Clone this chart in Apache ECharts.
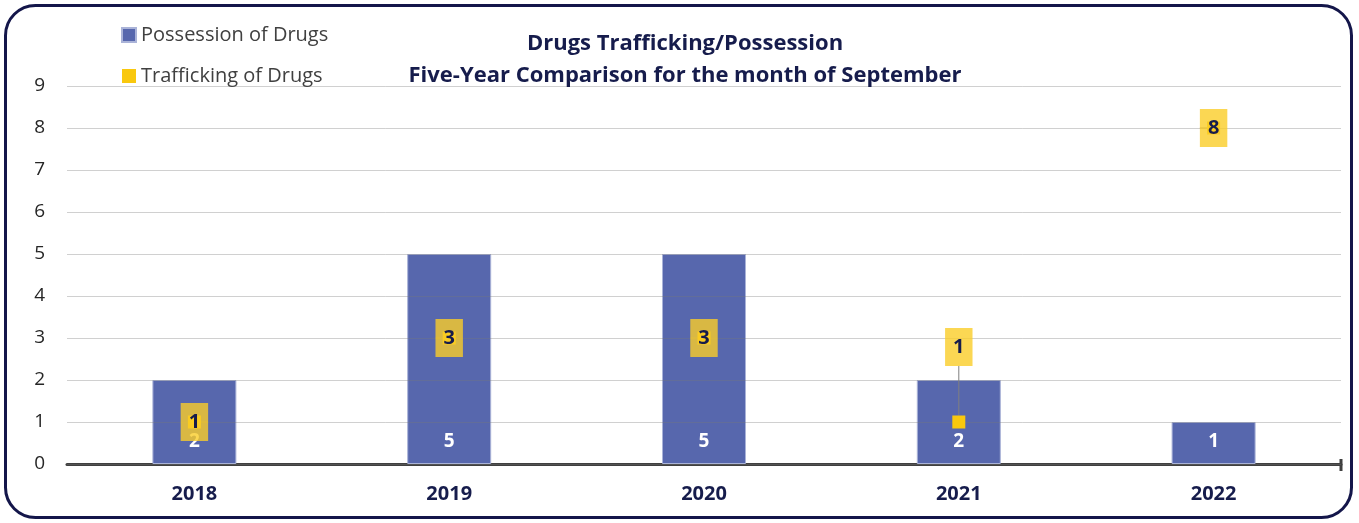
<!DOCTYPE html>
<html>
<head>
<meta charset="utf-8">
<script src="https://cdn.jsdelivr.net/npm/echarts@6/dist/echarts.min.js"></script>
<style>
  html, body { margin: 0; padding: 0; background: #fff; }
  #chart { width: 1359px; height: 523px; }
</style>
</head>
<body>
<div id="chart"></div>
<script>
const years = ['2018', '2019', '2020', '2021', '2022']
const possession = [2, 5, 5, 2, 1]
const trafficking = [1, 3, 3, 1, 8]
const yTicks = [0, 1, 2, 3, 4, 5, 6, 7, 8, 9]

const font = '"Open Sans", Lato, sans-serif'
const navy = '#161c4c'

const chart = echarts.init(document.getElementById('chart'))

const option = {
  animation: false,
  textStyle: { fontFamily: font },
  title: {
    text: 'Drugs Trafficking/Possession\nFive-Year Comparison for the month of September',
    left: 680,
    top: 23,
    textAlign: 'center',
    textStyle: {
      fontFamily: font,
      fontSize: 22,
      fontWeight: 'bold',
      color: navy,
      lineHeight: 32
    }
  },
  legend: {
    orient: 'vertical',
    left: 116,
    top: 20,
    itemWidth: 14,
    itemHeight: 14,
    itemGap: 21,
    icon: 'rect',
    textStyle: { fontFamily: font, fontSize: 20, color: '#404040' },
    data: ['Possession of Drugs', 'Trafficking of Drugs']
  },
  grid: { left: 67, right: 18, top: 86, bottom: 59 },
  xAxis: {
    type: 'category',
    data: years,
    axisLine: { lineStyle: { color: '#404040', width: 3 } },
    axisTick: { alignWithLabel: true, length: 7, lineStyle: { color: '#404040', width: 3 } },
    axisLabel: { margin: 20, fontFamily: font, fontSize: 20, fontWeight: 'bold', color: navy }
  },
  yAxis: {
    type: 'value',
    min: yTicks[0],
    max: yTicks[yTicks.length - 1],
    interval: 1,
    z: 3,
    axisLine: { show: false },
    axisTick: { show: false },
    axisLabel: { margin: 22, fontFamily: font, fontSize: 19, color: '#262626' },
    splitLine: { lineStyle: { color: 'rgba(120,120,120,0.35)', width: 1 } }
  },
  series: [
    {
      name: 'Possession of Drugs',
      type: 'bar',
      data: possession,
      barWidth: 84,
      itemStyle: { color: '#5767ad', borderColor: '#aab3d8', borderWidth: 1 },
      label: {
        show: true,
        position: 'insideBottom',
        distance: 13,
        fontFamily: font,
        fontSize: 19,
        fontWeight: 'bold',
        color: '#ffffff'
      }
    },
    {
      name: 'Trafficking of Drugs',
      type: 'scatter',
      data: trafficking,
      symbol: 'rect',
      symbolSize: 13,
      z: 5,
      itemStyle: { color: '#f9c80e', opacity: 1 },
      label: {
        show: true,
        position: 'inside',
        fontFamily: font,
        fontSize: 20,
        fontWeight: 'bold',
        color: navy,
        backgroundColor: 'rgba(250,205,40,0.8)',
        padding: [9, 8]
      },
      labelLine: { show: true, lineStyle: { color: '#7f7f7f', width: 1 } },
      labelLayout: (params) => params.dataIndex === 3 ? { dy: -75 } : {}
    }
  ],
  graphic: [
    {
      type: 'rect',
      shape: { x: 5.5, y: 5.5, width: 1346, height: 512, r: 30 },
      style: { fill: 'none', stroke: '#14164a', lineWidth: 3 },
      silent: true
    },
    {
      type: 'line',
      shape: { x1: 1341, y1: 459, x2: 1341, y2: 471 },
      style: { stroke: '#404040', lineWidth: 3 },
      silent: true
    }
  ]
}

chart.setOption(option)
</script>
</body>
</html>
